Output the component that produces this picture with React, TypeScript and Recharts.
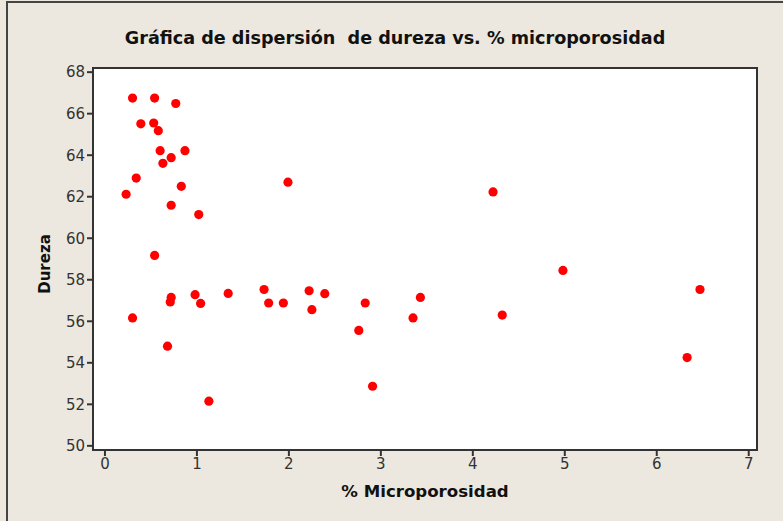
import React from 'react';
import {
  ScatterChart, Scatter, XAxis, YAxis, CartesianGrid, ReferenceArea
} from 'recharts';

// % microporosidad (x) and dureza (y)
const microporosidad = [
  0.30, 0.54, 0.77, 0.39, 0.53, 0.58, 0.60, 0.87, 0.72, 0.63, 0.34, 0.23, 0.83, 0.72, 1.02, 0.54,
  0.30, 0.68, 0.71, 0.72, 0.98, 1.04, 1.34, 1.13,
  1.99, 4.22, 1.73, 1.78, 1.94, 2.22, 2.39, 2.25, 2.83, 2.76, 3.43, 3.35, 2.91, 4.32,
  4.98, 6.47, 6.33,
];
const dureza = [
  66.75, 66.75, 66.49, 65.51, 65.55, 65.18, 64.22, 64.22, 63.88, 63.61, 62.90, 62.12, 62.50, 61.59, 61.14, 59.17,
  56.16, 54.80, 56.93, 57.15, 57.28, 56.86, 57.34, 52.15,
  62.70, 62.23, 57.53, 56.88, 56.88, 57.47, 57.33, 56.56, 56.88, 55.56, 57.15, 56.16, 52.87, 56.30,
  58.45, 57.53, 54.25,
];
const xTicks = [0, 1, 2, 3, 4, 5, 6, 7];
const yTicks = [50, 52, 54, 56, 58, 60, 62, 64, 66, 68];

const X_MIN = -0.13;
const X_MAX = 7.09;
const Y_MIN = 49.8;
const Y_MAX = 68.2;

const points = microporosidad.map((x, i) => ({ x, y: dureza[i] }));

const axisColor = '#333';
const tickStyle = { fontSize: 15, fill: '#333', fontFamily: 'DejaVu Sans' };

const Dot = (props: any) => (
  <circle cx={props.cx} cy={props.cy} r={4.6} fill="#ff0000" />
);

export default function App() {
  return (
    <div
      style={{
        position: 'absolute', left: 0, top: 0, width: 783, height: 521,
        background: '#ece8df', overflow: 'hidden', fontFamily: 'DejaVu Sans',
      }}
    >
      <div
        style={{
          position: 'absolute', left: 6, top: 1, width: 820, height: 560,
          border: '2px solid #444', boxSizing: 'border-box',
        }}
      />
      <div
        style={{
          position: 'absolute', left: 0, width: 790, top: 28, textAlign: 'center',
          fontSize: 17.6, fontWeight: 700, color: '#111',
        }}
      >
        Gráfica de dispersión&nbsp; de dureza vs. % microporosidad
      </div>
      <div
        style={{
          position: 'absolute', left: 45, top: 264, width: 0, height: 0,
        }}
      >
        <div
          style={{
            position: 'absolute', transform: 'translate(-50%, -50%) rotate(-90deg)',
            fontSize: 15, fontWeight: 700, color: '#111', whiteSpace: 'nowrap',
          }}
        >
          Dureza
        </div>
      </div>
      <div
        style={{
          position: 'absolute', left: 225, width: 400, top: 482, textAlign: 'center',
          fontSize: 16.6, fontWeight: 700, color: '#111',
        }}
      >
        % Microporosidad
      </div>
      <div style={{ position: 'absolute', left: 0, top: 0 }}>
        <ScatterChart
          width={783}
          height={521}
          margin={{ top: 68, right: 26, bottom: 31, left: 0 }}
        >
          <CartesianGrid horizontal={false} vertical={false} fill="#ffffff" fillOpacity={1} />
          <XAxis
            type="number"
            dataKey="x"
            domain={[X_MIN, X_MAX]}
            ticks={xTicks}
            allowDataOverflow
            height={40}
            stroke={axisColor}
            axisLine={{ stroke: axisColor, strokeWidth: 2 }}
            tickLine={{ stroke: axisColor, strokeWidth: 2 }}
            tickSize={6}
            tickMargin={2}
            tick={tickStyle}
          />
          <YAxis
            type="number"
            dataKey="y"
            domain={[Y_MIN, Y_MAX]}
            ticks={yTicks}
            allowDataOverflow
            width={93}
            stroke={axisColor}
            axisLine={{ stroke: axisColor, strokeWidth: 2 }}
            tickLine={{ stroke: axisColor, strokeWidth: 2 }}
            tickSize={6}
            tickMargin={2}
            tick={tickStyle}
          />
          <ReferenceArea
            x1={X_MIN}
            x2={X_MAX}
            y1={Y_MIN}
            y2={Y_MAX}
            fill="none"
            stroke={axisColor}
            strokeWidth={2}
            ifOverflow="extendDomain"
          />
          <Scatter data={points} shape={Dot} isAnimationActive={false} />
        </ScatterChart>
      </div>
    </div>
  );
}
